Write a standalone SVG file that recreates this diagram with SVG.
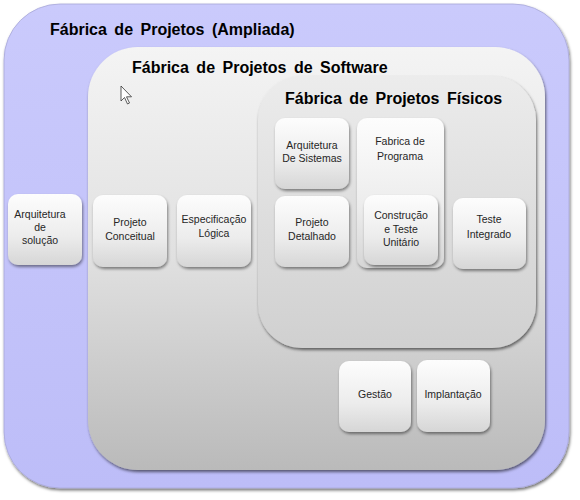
<svg xmlns="http://www.w3.org/2000/svg" width="580" height="500" viewBox="0 0 580 500">
<defs>
<linearGradient id="gBlue" x1="0" y1="0" x2="0" y2="1">
<stop offset="0" stop-color="#cacafc"/><stop offset="1" stop-color="#bdbdf8"/>
</linearGradient>
<linearGradient id="gSoft" x1="0" y1="0" x2="0" y2="1">
<stop offset="0" stop-color="#f4f4f4"/><stop offset="0.5" stop-color="#e0e0e0"/><stop offset="1" stop-color="#bababa"/>
</linearGradient>
<linearGradient id="gFis" x1="0" y1="0" x2="0" y2="1">
<stop offset="0" stop-color="#ececec"/><stop offset="1" stop-color="#d0d0d0"/>
</linearGradient>
<linearGradient id="gNode" x1="0" y1="0" x2="0" y2="1">
<stop offset="0" stop-color="#fdfdfd"/><stop offset="0.6" stop-color="#ececec"/><stop offset="1" stop-color="#d6d6d6"/>
</linearGradient>
<filter id="sh" x="-20%" y="-20%" width="140%" height="140%">
<feDropShadow dx="1" dy="2" stdDeviation="1.5" flood-color="#000" flood-opacity="0.45"/>
</filter>
<filter id="shBig" x="-10%" y="-10%" width="120%" height="120%">
<feDropShadow dx="1" dy="2" stdDeviation="1.5" flood-color="#000" flood-opacity="0.55"/>
</filter>
</defs>
<style>
.cont { filter: url(#shBig); }
.node rect { fill: url(#gNode); filter: url(#sh); }
.node text { font-family: "Liberation Sans", Arial, sans-serif; font-size: 10.5px; fill: #262626; text-anchor: middle; }
.title { font-family: "Liberation Sans", Arial, sans-serif; font-size: 16px; font-weight: bold; fill: #000; word-spacing: 3px; }
</style>

<g id="ampliada">
<rect class="cont" x="4" y="4" width="565" height="484" rx="56" fill="url(#gBlue)" stroke="#a8a8d8" stroke-width="0.8"/>
<text class="title" x="50" y="35">Fábrica de Projetos (Ampliada)</text>
</g>

<g id="software">
<rect class="cont" x="88" y="47" width="457" height="423" rx="50" fill="url(#gSoft)"/>
<text class="title" x="132" y="73">Fábrica de Projetos de Software</text>
</g>

<g id="fisicos">
<rect class="cont" x="258" y="76" width="278" height="272" rx="44" fill="url(#gFis)"/>
<text class="title" x="285" y="104">Fábrica de Projetos Físicos</text>
</g>

<path d="M121 86 L121 101 L124.5 97.5 L127.5 104 L129.5 103 L126.5 96.8 L131.5 96.8 Z" fill="#fff" stroke="#333" stroke-width="0.8"/>

<g id="connectors"></g>

<g id="arq-solucao" class="node">
<rect x="8" y="194" width="74" height="71" rx="10"/>
<text x="40" y="218">Arquitetura</text>
<text x="40" y="231">de</text>
<text x="40" y="244">solução</text>
</g>

<g id="projeto-conceitual" class="node">
<rect x="93" y="195" width="74" height="72" rx="10"/>
<text x="130" y="226">Projeto</text>
<text x="130" y="240">Conceitual</text>
</g>

<g id="especificacao-logica" class="node">
<rect x="177" y="195" width="74" height="72" rx="10"/>
<text x="214" y="223">Especificação</text>
<text x="214" y="237">Lógica</text>
</g>

<g id="arq-sistemas" class="node">
<rect x="275" y="118" width="74" height="71" rx="10"/>
<text x="312" y="149">Arquitetura</text>
<text x="312" y="162">De Sistemas</text>
</g>

<g id="projeto-detalhado" class="node">
<rect x="275" y="196" width="74" height="71" rx="10"/>
<text x="312" y="226">Projeto</text>
<text x="312" y="240">Detalhado</text>
</g>

<g id="fabrica-programa" class="node">
<rect x="357" y="118" width="87" height="150" rx="10"/>
<text x="400" y="145">Fabrica de</text>
<text x="400" y="160">Programa</text>
</g>

<g id="construcao" class="node">
<rect x="364" y="195" width="74" height="70" rx="10"/>
<text x="401" y="219">Construção</text>
<text x="401" y="233">e Teste</text>
<text x="401" y="246">Unitário</text>
</g>

<g id="teste-integrado" class="node">
<rect x="453" y="198" width="73" height="71" rx="10"/>
<text x="489" y="223">Teste</text>
<text x="489" y="238">Integrado</text>
</g>

<g id="gestao" class="node">
<rect x="339" y="361" width="72" height="71" rx="10"/>
<text x="375" y="398">Gestão</text>
</g>

<g id="implantacao" class="node">
<rect x="417" y="360" width="73" height="72" rx="10"/>
<text x="453" y="398">Implantação</text>
</g>
</svg>
